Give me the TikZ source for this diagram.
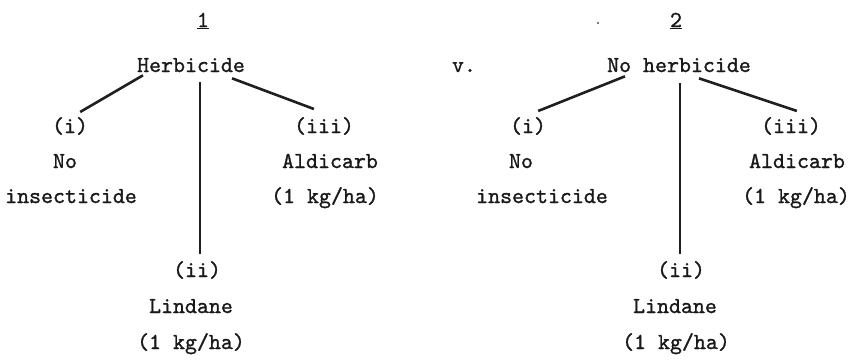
\documentclass[tikz,border=0pt]{standalone}
\usepackage{fontspec}
\newfontfamily\tw[Extension=.otf,FakeBold=1.2]{lmmono10-regular}
\usetikzlibrary{calc}
\begin{document}
\begin{tikzpicture}[x=1pt,y=-1pt,
  lbl/.style={font=\tw\fontsize{22.8}{26}\selectfont, inner sep=0pt, anchor=base, text=black!90},
  branch/.style={line width=2.6pt, draw=black!88}]
\useasboundingbox (0,0) rectangle (855,360);
% ---- tree 1
\node[lbl] (n1) at (203,27) {\underline{1}};
\node[lbl] (herb) at (191,72) {Herbicide};
\node[lbl] (i1) at (70,133) {(i)};
\node[lbl] (no1) at (65,168) {No};
\node[lbl] (ins1) at (71,203) {insecticide};
\node[lbl] (iii1) at (324,133) {(iii)};
\node[lbl] (ald1) at (330,168) {Aldicarb};
\node[lbl] (kga1) at (325,203) {(1 kg/ha)};
\node[lbl] (ii1) at (197,277) {(ii)};
\node[lbl] (lin1) at (191,313) {Lindane};
\node[lbl] (kgb1) at (191,349) {(1 kg/ha)};
\draw[branch] ($(herb.south west)+(6,3)$) -- ($(i1.north east)+(-8,-5)$);
\draw[branch] ($(herb.south)+(9,10)$) -- ($(ii1.north)+(3,-7)$);
\draw[branch] ($(herb.south east)+(-13,6)$) -- ($(iii1.north west)+(20,-8)$);
% ---- v.
\node[lbl] (vs) at (464,72) {v.};
\fill[black!70] (598,23) circle (1.2);
% ---- tree 2
\node[lbl] (n2) at (676,27) {\underline{2}};
\node[lbl] (noherb) at (679,72) {No herbicide};
\node[lbl] (i2) at (528,133) {(i)};
\node[lbl] (no2) at (521,168) {No};
\node[lbl] (ins2) at (542,203) {insecticide};
\node[lbl] (iii2) at (791,133) {(iii)};
\node[lbl] (ald2) at (797,168) {Aldicarb};
\node[lbl] (kga2) at (796,203) {(1 kg/ha)};
\node[lbl] (ii2) at (681,277) {(ii)};
\node[lbl] (lin2) at (675,313) {Lindane};
\node[lbl] (kgb2) at (676,349) {(1 kg/ha)};
\draw[branch] ($(noherb.south west)+(18,4)$) -- ($(i2.north east)+(-8,-6)$);
\draw[branch] ($(noherb.south)+(1,11)$) -- ($(ii2.north)+(-1,-7)$);
\draw[branch] ($(noherb.south east)+(-52,6)$) -- ($(iii2.north west)+(36,-6)$);
\end{tikzpicture}
\end{document}
